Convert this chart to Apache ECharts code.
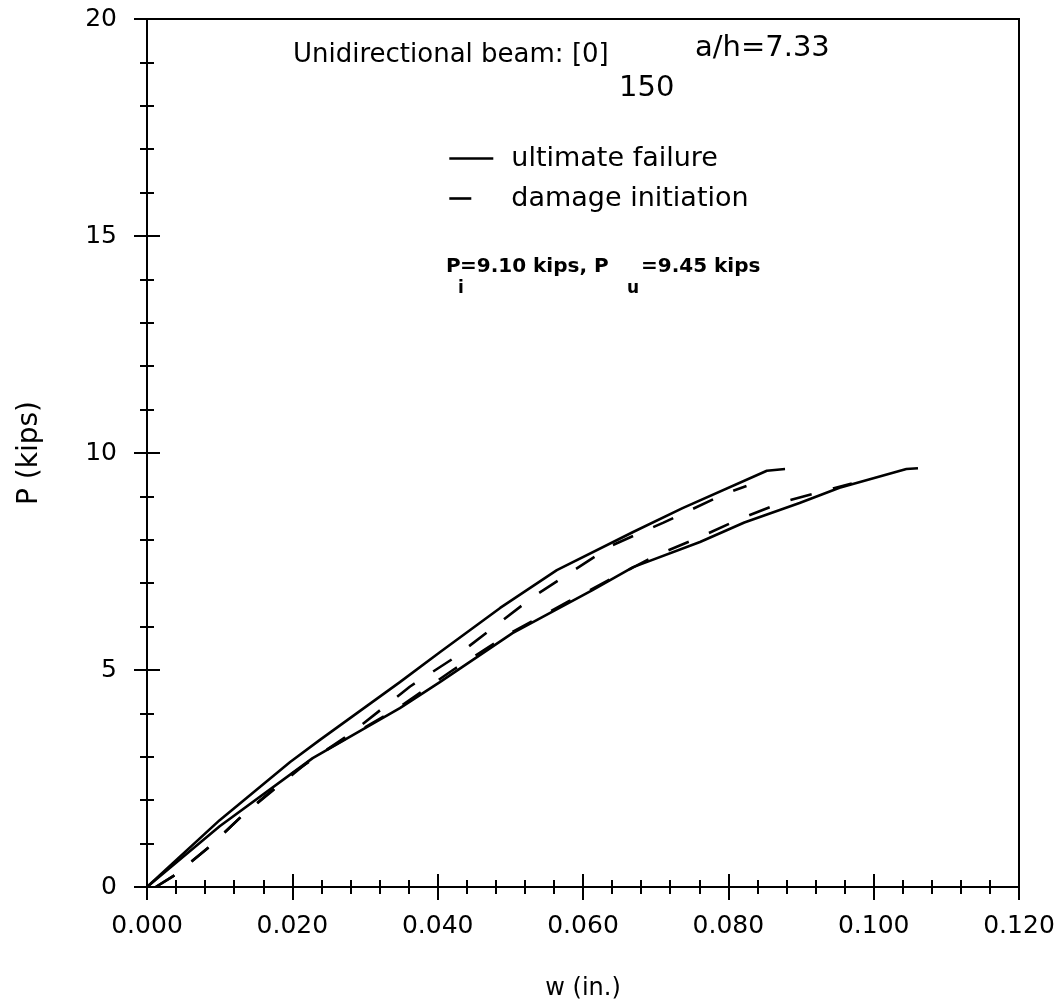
<!DOCTYPE html>
<html><head><meta charset="utf-8">
<script src="https://cdn.jsdelivr.net/npm/echarts@6/dist/echarts.min.js"></script>
<style>html,body{margin:0;padding:0;background:#fff}#c{width:1064px;height:1000px}</style>
</head><body><div id="c"></div>
<script>
// ---- data ----
const xTickLabels = ['0.000', '0.020', '0.040', '0.060', '0.080', '0.100', '0.120'];
const yTickLabels = ['0', '5', '10', '15', '20'];

// ultimate failure (solid) - stiffer specimen
const ultimateUpper = [[0, 0], [0.010, 1.54], [0.0197, 2.88], [0.0238, 3.39], [0.0348, 4.72], [0.0403, 5.41],
  [0.0486, 6.43], [0.0564, 7.30], [0.0669, 8.18], [0.0737, 8.73], [0.0853, 9.59], [0.0878, 9.63]];
// ultimate failure (solid) - softer specimen
const ultimateLower = [[0, 0], [0.010, 1.40], [0.0228, 2.97], [0.0348, 4.12], [0.0403, 4.72], [0.0503, 5.85],
  [0.0613, 6.84], [0.0669, 7.37], [0.0761, 7.95], [0.0822, 8.40], [0.0898, 8.85], [0.0953, 9.20],
  [0.1045, 9.63], [0.1061, 9.65]];
// damage initiation (dashed)
const initiationUpper = [[0.0012, 0], [0.0039, 0.28], [0.0087, 0.94], [0.0132, 1.66], [0.0200, 2.62],
  [0.0283, 3.57], [0.0362, 4.62], [0.0420, 5.25], [0.0486, 6.10], [0.0531, 6.68], [0.0641, 7.88],
  [0.0710, 8.39], [0.0798, 9.08], [0.0825, 9.24]];
const initiationLower = [[0.0012, 0], [0.0039, 0.28], [0.0087, 0.94], [0.0132, 1.66], [0.0228, 2.97],
  [0.0348, 4.15], [0.0421, 5.00], [0.0503, 5.88], [0.0580, 6.58], [0.0650, 7.20], [0.0702, 7.65],
  [0.0758, 8.04], [0.0816, 8.48], [0.0875, 8.87], [0.0937, 9.15], [0.0970, 9.30]];

const FONT = 'DejaVu Sans';
const gridRect = { left: 147, right: 45, top: 19, bottom: 113, containLabel: false, outerBoundsMode: 'none' };

function xAxisCfg(grid, inside, labels) {
  return {
    type: 'value', gridIndex: grid, min: 0, max: 0.12, interval: 0.02,
    position: 'bottom',
    name: labels ? 'w (in.)' : '', nameLocation: 'middle', nameGap: 90,
    nameTextStyle: { fontFamily: FONT, fontSize: 24, color: '#000' },
    axisLine: { show: labels, onZero: false, lineStyle: { color: '#000', width: 2 } },
    axisTick: { show: true, inside: inside, length: 13, lineStyle: { color: '#000', width: 2 } },
    minorTick: { show: true, splitNumber: 5, length: 7, lineStyle: { color: '#000', width: 2 } },
    splitLine: { show: false }, minorSplitLine: { show: false },
    axisLabel: {
      show: labels, margin: 27, fontFamily: FONT, fontSize: 25, color: '#000',
      formatter: v => xTickLabels[Math.round(v / 0.02)]
    }
  };
}
function yAxisCfg(grid, inside, labels) {
  return {
    type: 'value', gridIndex: grid, min: 0, max: 20, interval: 5,
    position: 'left',
    name: labels ? 'P (kips)' : '', nameLocation: 'middle', nameGap: 103, nameRotate: 90,
    nameTextStyle: { fontFamily: FONT, fontSize: 28, color: '#000' },
    axisLine: { show: labels, onZero: false, lineStyle: { color: '#000', width: 2 } },
    axisTick: { show: true, inside: inside, length: 13, lineStyle: { color: '#000', width: 2 } },
    minorTick: { show: true, splitNumber: 5, length: 7, lineStyle: { color: '#000', width: 2 } },
    splitLine: { show: false }, minorSplitLine: { show: false },
    axisLabel: {
      show: labels, margin: 30, fontFamily: FONT, fontSize: 25, color: '#000',
      padding: [10, 0, 0, 0],
      formatter: v => yTickLabels[Math.round(v / 5)]
    }
  };
}

function lineSeries(name, data, dashed) {
  return {
    type: 'line', name: name, data: data, xAxisIndex: 0, yAxisIndex: 0,
    symbol: 'none', smooth: false, silent: true, animation: false,
    lineStyle: { color: '#000', width: 2.6, type: dashed ? [22, 22] : 'solid' },
    itemStyle: { color: '#000' }
  };
}

const chart = echarts.init(document.getElementById('c'), null, { renderer: 'canvas' });
chart.setOption({
  animation: false,
  backgroundColor: '#fff',
  grid: [
    Object.assign({ show: true, borderColor: '#000', borderWidth: 2, backgroundColor: 'transparent' }, gridRect),
    Object.assign({ show: false }, gridRect)
  ],
  xAxis: [xAxisCfg(0, false, true), xAxisCfg(1, true, false)],
  yAxis: [yAxisCfg(0, false, true), yAxisCfg(1, true, false)],
  legend: {
    orient: 'vertical', left: 448, top: 145, padding: 0,
    itemWidth: 44, itemHeight: 14, itemGap: 13, selectedMode: false,
    data: ['ultimate failure', 'damage initiation'],
    itemStyle: { color: 'rgba(0,0,0,0)', borderColor: 'rgba(0,0,0,0)', borderWidth: 0 },
    lineStyle: { width: 2.6 },
    textStyle: { fontFamily: FONT, fontSize: 27, color: '#000', padding: [0, 0, 0, 13] }
  },
  series: [
    lineSeries('ultimate failure', ultimateUpper, false),
    lineSeries('ultimate failure', ultimateLower, false),
    lineSeries('damage initiation', initiationUpper, true),
    lineSeries('damage initiation', initiationLower, true)
  ],
  graphic: [
    { type: 'text', left: 293, top: 42, style: { text: 'Unidirectional beam: [0]', font: '26px "DejaVu Sans"', fill: '#000' } },
    { type: 'text', left: 619, top: 74, style: { text: '150', font: '29px "DejaVu Sans"', fill: '#000' } },
    { type: 'text', left: 695, top: 34, style: { text: 'a/h=7.33', font: '29px "DejaVu Sans"', fill: '#000' } },
    { type: 'text', left: 446, top: 257, style: { text: 'P', font: 'bold 20px "DejaVu Sans"', fill: '#000' } },
    { type: 'text', left: 458, top: 280, style: { text: 'i', font: 'bold 17px "DejaVu Sans"', fill: '#000' } },
    { type: 'text', left: 460, top: 257, style: { text: '=9.10 kips, P', font: 'bold 20px "DejaVu Sans"', fill: '#000' } },
    { type: 'text', left: 627, top: 280, style: { text: 'u', font: 'bold 17px "DejaVu Sans"', fill: '#000' } },
    { type: 'text', left: 641, top: 257, style: { text: '=9.45 kips', font: 'bold 20px "DejaVu Sans"', fill: '#000' } }
  ]
});
</script></body></html>
